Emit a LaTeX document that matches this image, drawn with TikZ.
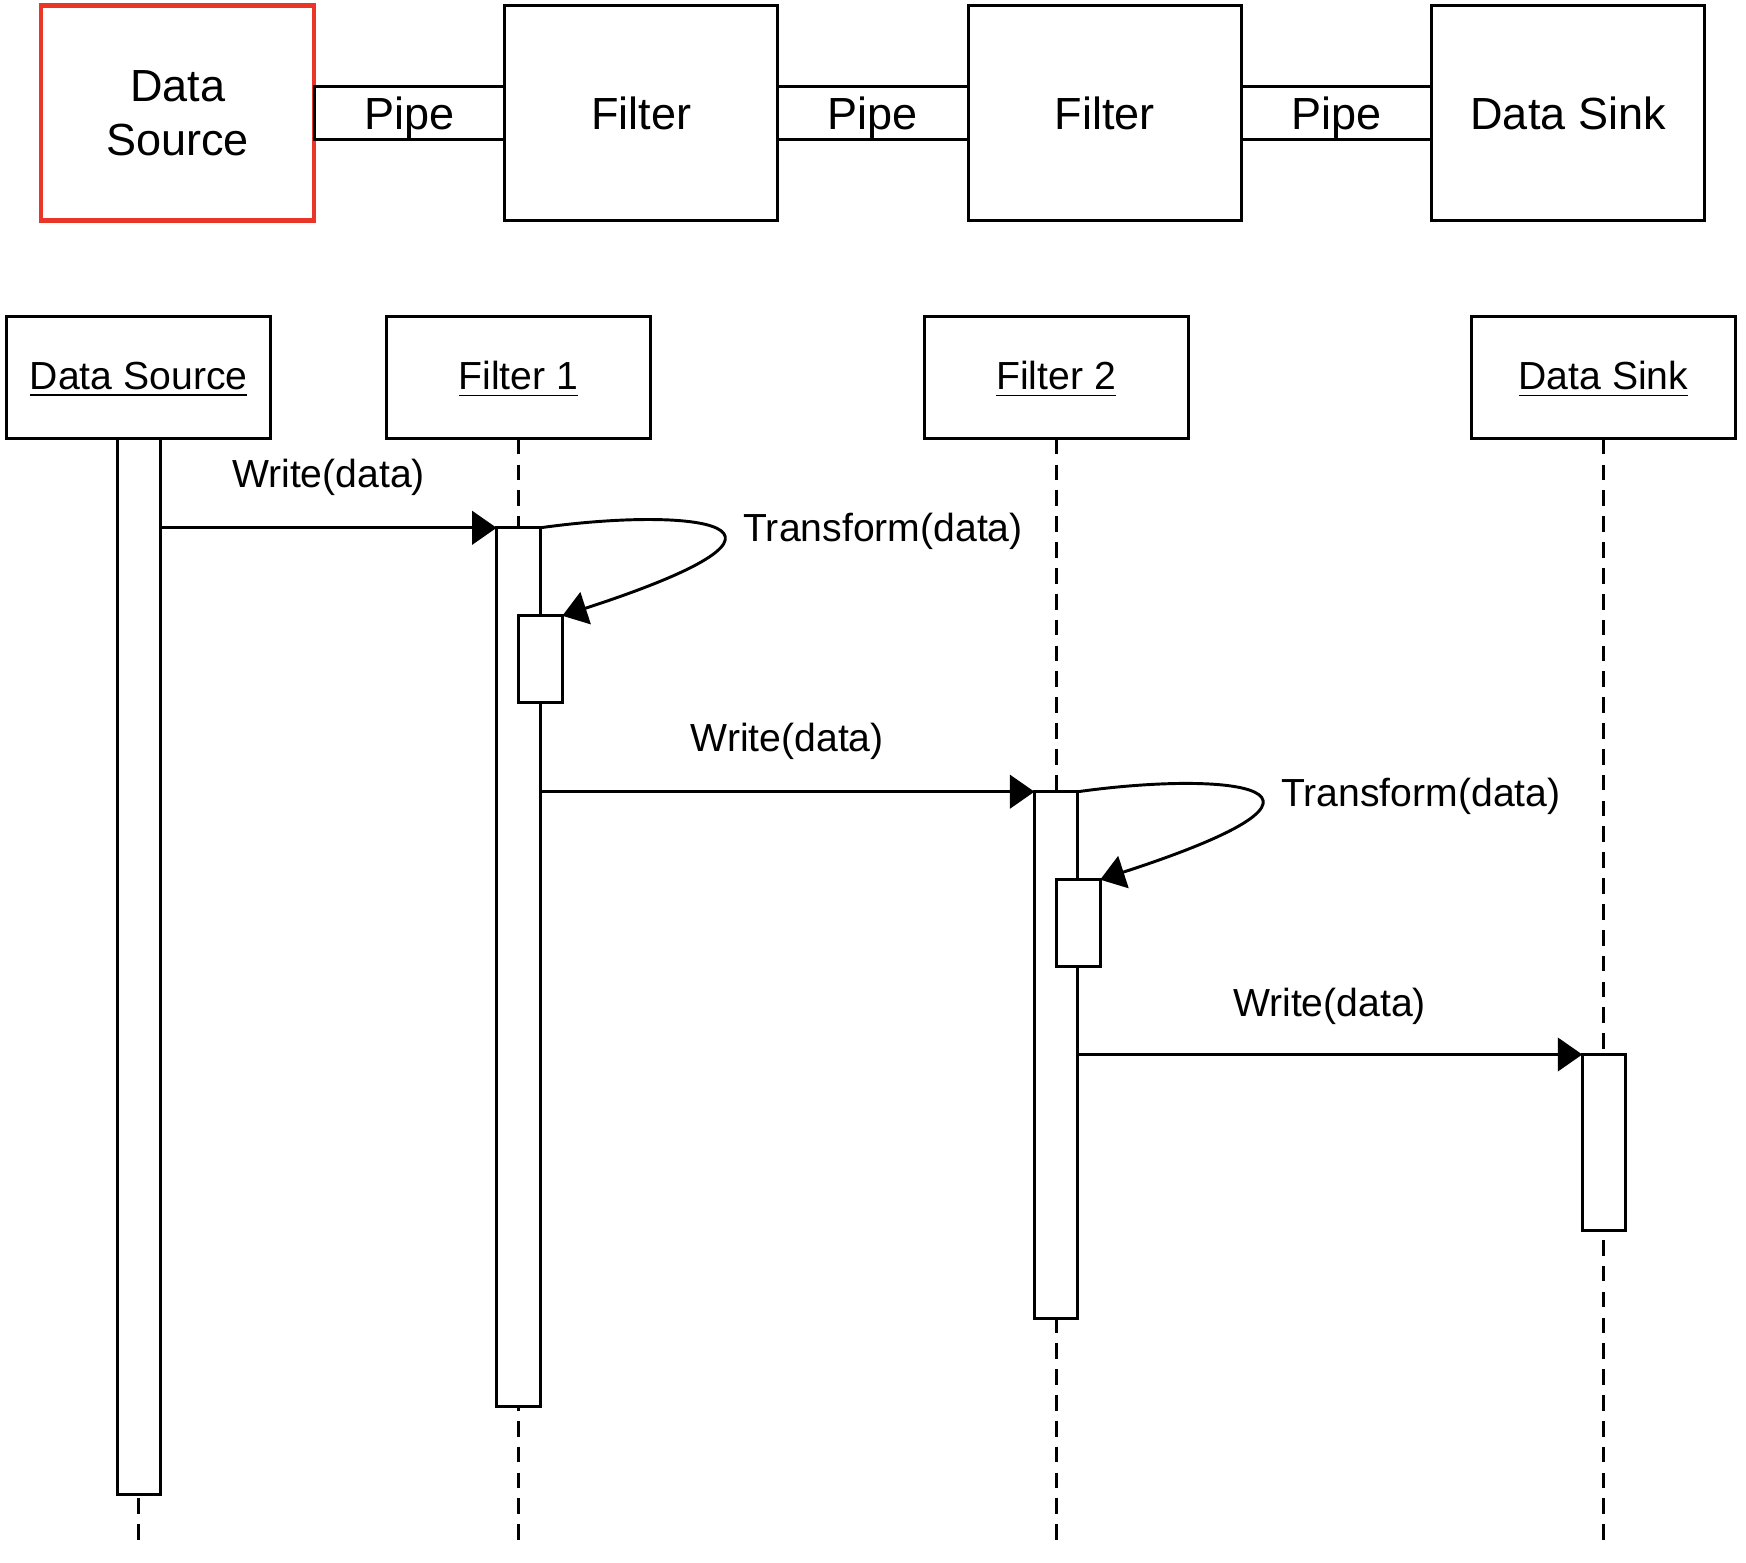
\documentclass[tikz,border=0pt]{standalone}
\usepackage{xcolor}
\usepackage{fontspec}
\setmainfont{Liberation Sans}
\usetikzlibrary{positioning,arrows.meta}

\definecolor{srcred}{RGB}{234,54,40}

\begin{document}
\begin{tikzpicture}[x=0.01cm,y=-0.01cm,
  box/.style={draw,line width=0.75pt,minimum width=2.45cm,minimum height=1.93cm,inner sep=0pt,outer sep=0pt,align=center,font=\fontsize{11.5}{13.8}\selectfont},
  pipe/.style={draw,line width=0.75pt,minimum width=1.71cm,minimum height=0.48cm,inner sep=0pt,outer sep=0pt,text depth=0pt,font=\fontsize{11.5}{13.8}\selectfont},
  head/.style={draw,line width=0.75pt,minimum width=2.37cm,minimum height=1.1cm,inner sep=0pt,outer sep=0pt,text depth=1pt,anchor=north,font=\fontsize{10}{12}\selectfont},
  act/.style={draw,fill=white,line width=0.75pt,minimum width=0.39cm,inner sep=0pt,outer sep=0pt,anchor=north},
  life/.style={line width=0.75pt,dash pattern=on 4pt off 2.6pt},
  msg/.style={line width=0.75pt,-{Triangle[length=0.22cm,width=0.3cm]}},
  lbl/.style={inner sep=0pt,font=\fontsize{10}{12}\selectfont}]
\useasboundingbox (0,0) rectangle (1568,1403);

% pipes and filters
\node [box,draw=srcred,line width=1.1pt] (src) at (159.5,101.5) {Data\\Source};
\node [pipe,right=0pt of src] (pipeA) {Pipe};
\node [box,right=0pt of pipeA] (filtA) {Filter};
\node [pipe,right=0pt of filtA] (pipeB) {Pipe};
\node [box,right=0pt of pipeB] (filtB) {Filter};
\node [pipe,right=0pt of filtB] (pipeC) {Pipe};
\node [box,right=0pt of pipeC] (sink) {Data Sink};

% sequence
\node [head] (srcHead) at (124.5,284) {\underline{Data Source}};
\node [head] (f1Head) at (465.5,284) {\underline{Filter 1}};
\node [head] (f2Head) at (948.5,284) {\underline{Filter 2}};
\node [head] (sinkHead) at (1440,284) {\underline{Data Sink}};

\foreach \n in {srcHead,f1Head,f2Head,sinkHead}
\draw [life] (\n.south) -- (\n.south |- 0,1392);

\node [act,minimum height=9.48cm] (srcAct) at (125,394) {};
\node [act,minimum height=7.89cm] (f1Act) at (465.5,474) {};
\node [act,minimum height=0.78cm] (f1Sub) at (485.5,553) {};
\node [act,minimum height=4.73cm] (f2Act) at (948.5,711) {};
\node [act,minimum height=0.78cm] (f2Sub) at (968.5,790) {};
\node [act,minimum height=1.58cm] (sinkAct) at (1440.5,947) {};

\draw [msg] (srcAct.east |- f1Act.north) -- (f1Act.north west);
\node [lbl] (w1) at (295,429) {Write(data)};
\draw [msg] (f1Act.north east) .. controls +(135,-19) and +(255,-83) .. (f1Sub.north east);
\node [lbl,anchor=west] (t1) at (667,477) {Transform(data)};

\draw [msg] (f1Act.east |- f2Act.north) -- (f2Act.north west);
\node [lbl] (w2) at (707,666) {Write(data)};
\draw [msg] (f2Act.north east) .. controls +(135,-19) and +(255,-83) .. (f2Sub.north east);
\node [lbl,anchor=west] (t2) at (1150,715) {Transform(data)};

\draw [msg] (f2Act.east |- sinkAct.north) -- (sinkAct.north west);
\node [lbl] (w3) at (1194,904) {Write(data)};
\end{tikzpicture}
\end{document}
